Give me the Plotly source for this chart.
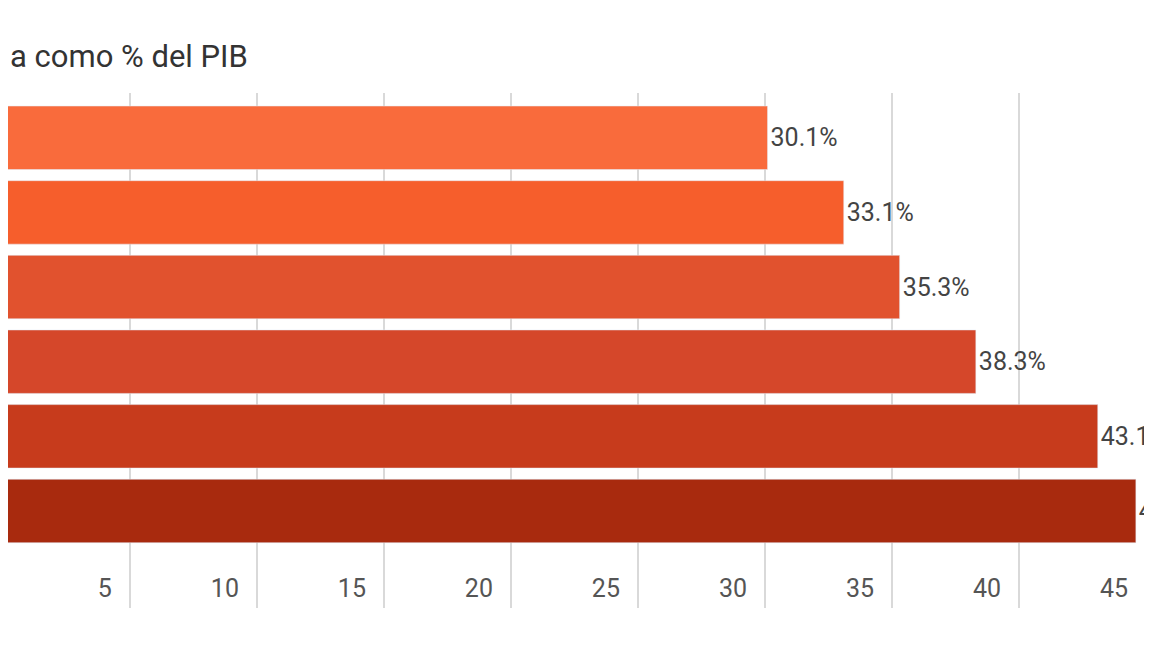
import plotly.graph_objects as go

# Bar values (% of GDP), top to bottom
values = [30.1, 33.1, 35.3, 38.3, 43.1, 44.6]
labels = ["30.1%", "33.1%", "35.3%", "38.3%", "43.1%", "44.6%"]
positions = [0, 1, 2, 3, 4, 5]
colors = ["#F96B3C", "#F65E2C", "#E1522E", "#D5472A", "#C73B1C", "#A82A0E"]
tick_vals = [5, 10, 15, 20, 25, 30, 35, 40, 45]

fig = go.Figure(go.Bar(
    x=values, y=positions, orientation='h',
    marker=dict(color=colors),
    width=0.85,
    text=labels, textposition='outside', cliponaxis=False,
    textfont=dict(size=25, color="#444444"),
))

fig.update_layout(
    width=1152, height=648,
    margin=dict(l=0, r=0, t=85, b=48, autoexpand=False),
    plot_bgcolor="white", paper_bgcolor="white",
    font=dict(family="Roboto", color="#555555"),
    showlegend=False,
    annotations=[dict(text="a como % del PIB", x=0, y=1, xref="paper", yref="paper",
                      xanchor="left", yanchor="bottom", yshift=16, showarrow=False,
                      font=dict(size=31, color="#333333"))],
)
fig.update_xaxes(range=[0.2, 45.55], tickvals=tick_vals, showgrid=True,
                 gridcolor="#d9d9d9", gridwidth=1.5, zeroline=False,
                 ticklabelposition="inside left", ticklabelshift=-18,
                 tickfont=dict(size=25, color="#555555"), showline=False)
fig.update_yaxes(range=[6.3, -0.6], showticklabels=False, showgrid=False, zeroline=False)

fig.write_html("out.html")
